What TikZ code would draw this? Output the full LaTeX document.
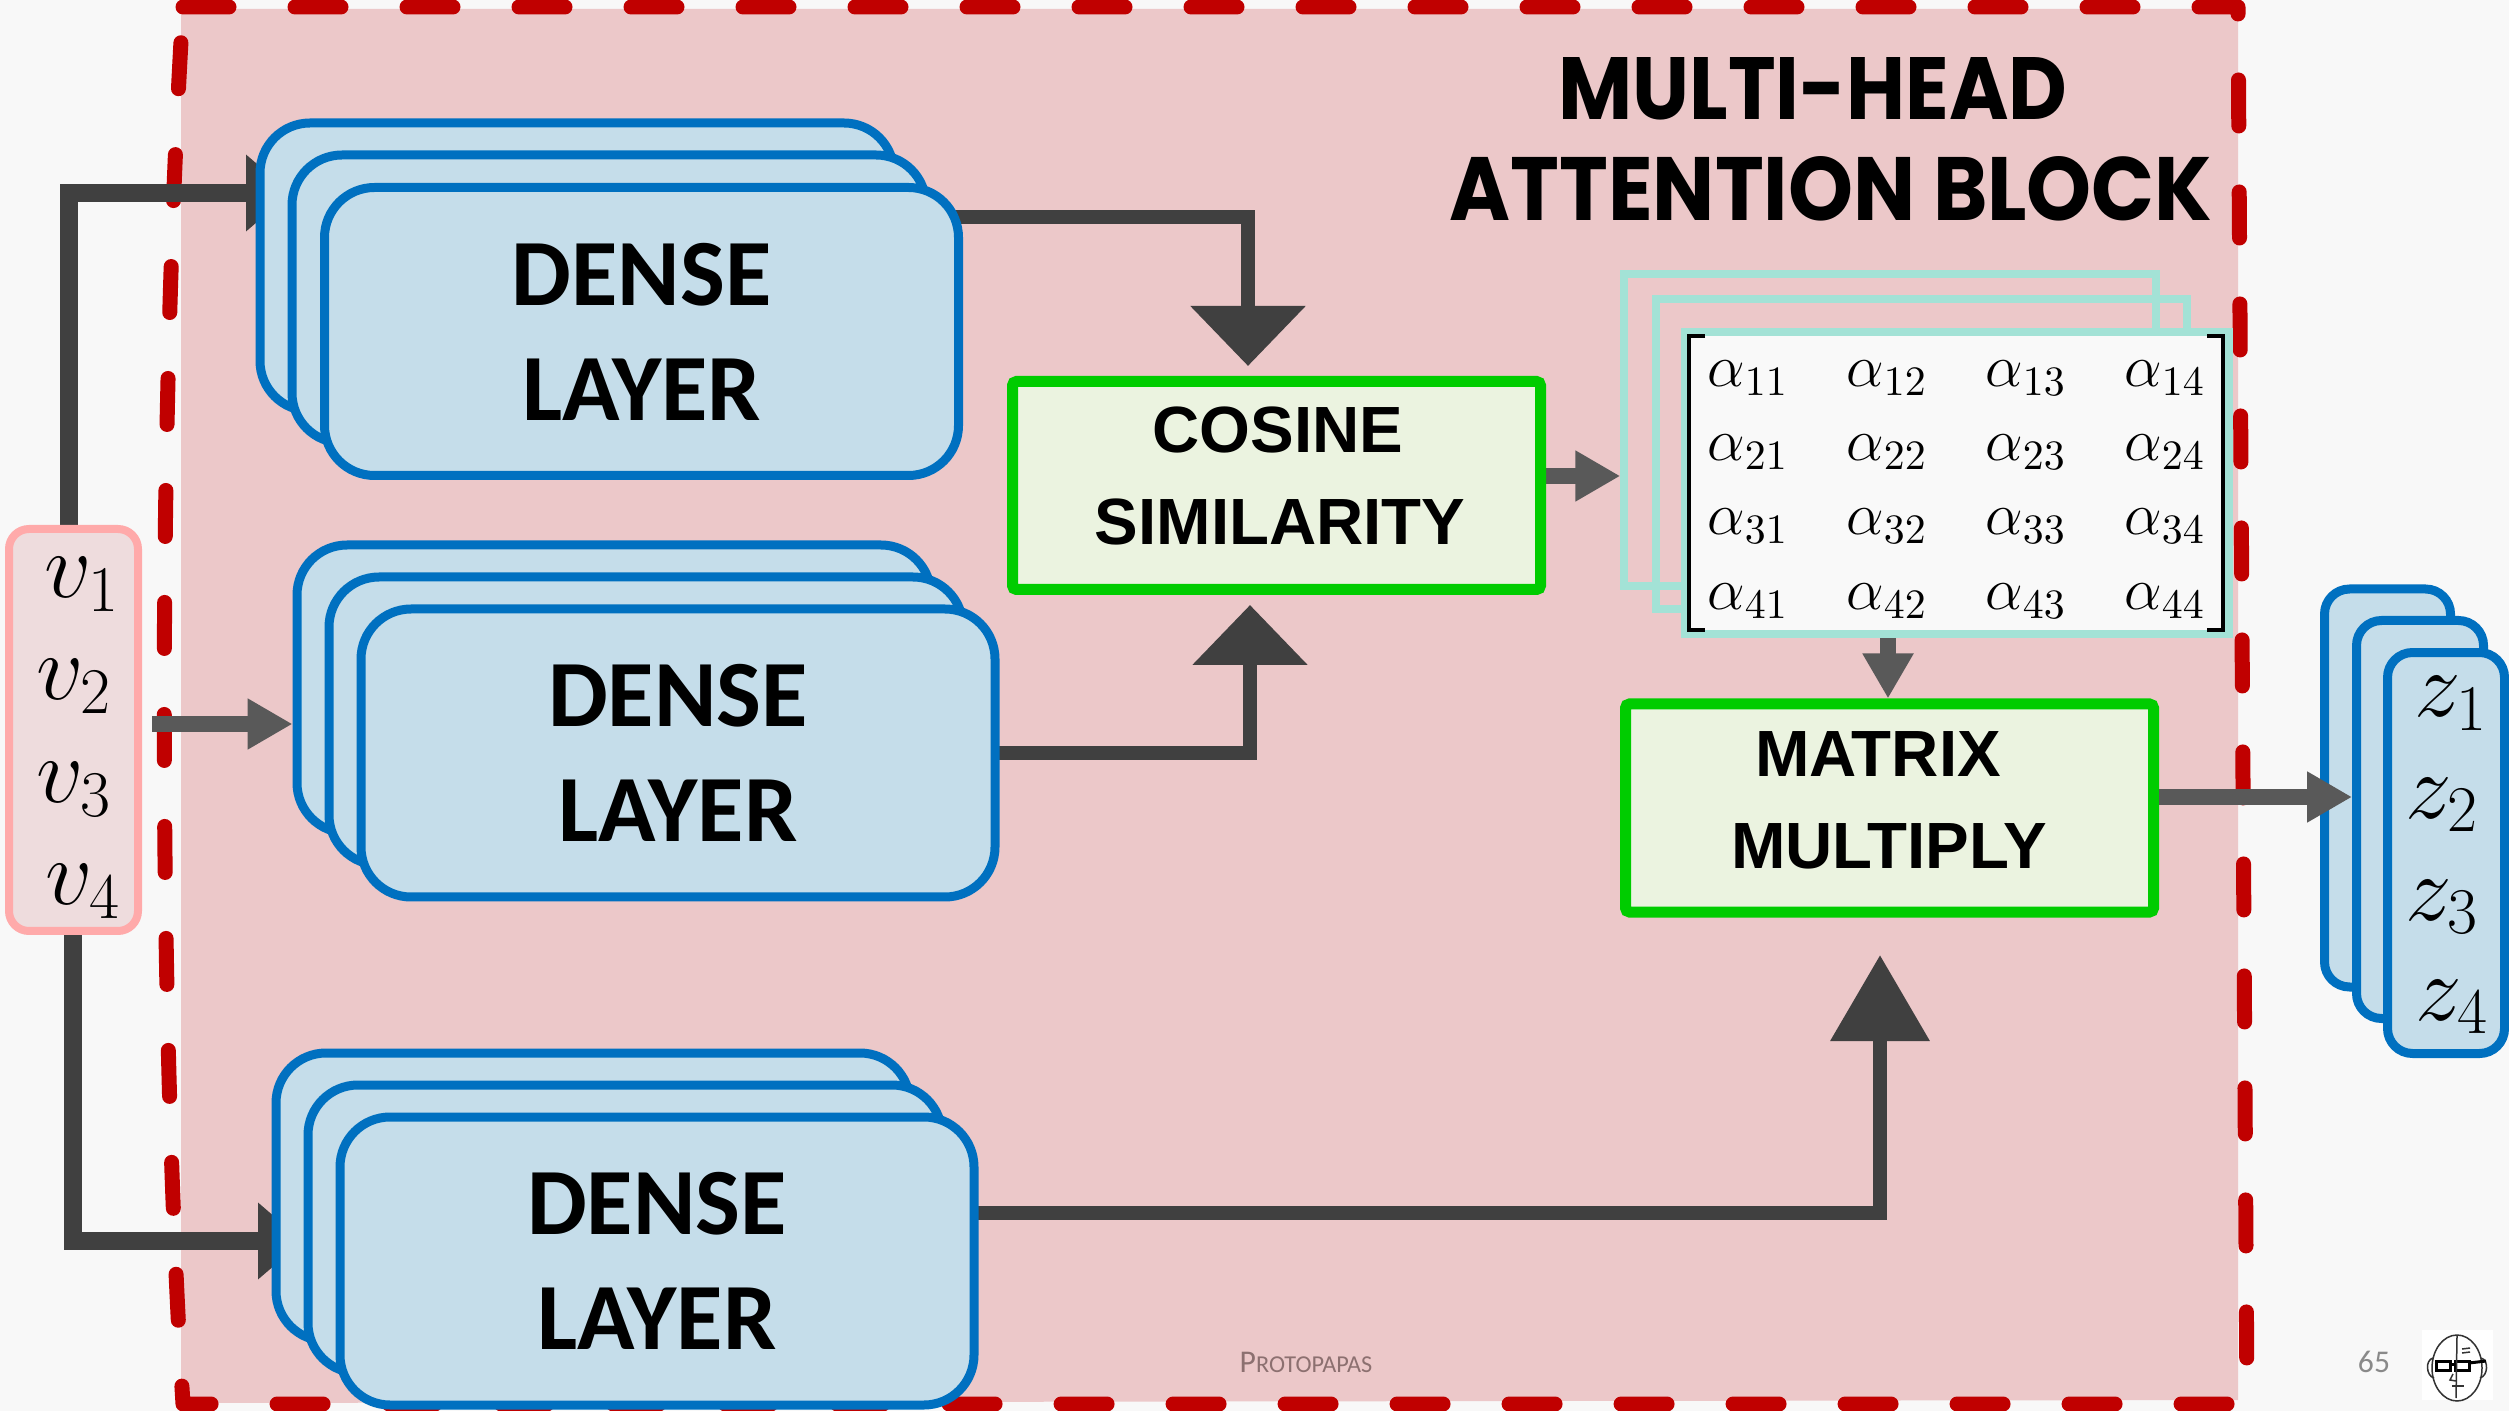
\RequirePackage{fix-cm}
\documentclass[tikz,border=0pt]{standalone}
\usepackage[no-math]{fontspec}
\usepackage{graphicx}
\usetikzlibrary{arrows.meta,calc}
\setmainfont{Carlito}
\newfontfamily\densefont{Carlito}
\newfontfamily\boxfont{Liberation Sans}
\newfontfamily\titlefont{Poppins}

\definecolor{bgc}{RGB}{248,248,248}
\definecolor{pinkfill}{RGB}{236,200,201}
\definecolor{bred}{RGB}{192,0,0}
\definecolor{dblue}{RGB}{0,112,192}
\definecolor{dfill}{RGB}{197,221,234}
\definecolor{vedge}{RGB}{255,170,170}
\definecolor{vfill}{RGB}{238,220,221}
\definecolor{gedge}{RGB}{0,204,0}
\definecolor{gfill}{RGB}{235,243,224}
\definecolor{tealedge}{RGB}{163,226,214}
\definecolor{matfill}{RGB}{249,249,249}
\definecolor{wiredark}{RGB}{64,64,64}
\definecolor{wiremid}{RGB}{89,89,89}
\definecolor{foot}{RGB}{140,112,112}
\definecolor{pagenum}{RGB}{137,137,137}

\pgfdeclarelayer{bg}
\pgfdeclarelayer{wires}
\pgfsetlayers{bg,wires,main}

\tikzset{
  densebox/.style={draw=dblue, fill=dfill, line width=0.9mm, rounded corners=5mm,
    minimum width=63.4mm, minimum height=28.8mm, inner sep=0pt, align=center,
    font=\densefont\bfseries\fontsize{27}{32.7}\selectfont},
  zbox/.style={draw=dblue, fill=dfill, line width=0.9mm, rounded corners=2.5mm,
    minimum height=39.8mm, inner sep=0pt},
  vecbox/.style={draw=vedge, fill=vfill, line width=0.8mm, rounded corners=2mm,
    minimum width=12.9mm, minimum height=40.2mm, inner sep=0pt},
  opbox/.style={draw=gedge, fill=gfill, line width=1.1mm, rounded corners=0.4mm,
    minimum width=52.8mm, minimum height=20.8mm, inner sep=0pt},
  optext/.style={anchor=base, inner sep=0pt, font=\boxfont\bfseries\fontsize{18.6}{22}\selectfont},
  frame/.style={draw=tealedge, line width=0.75mm, inner sep=0pt},
  entry/.style={anchor=base west, inner sep=0pt, font=\fontsize{17}{20}\selectfont},
  veclabel/.style={anchor=base, inner sep=0pt, font=\fontsize{26.5}{30}\selectfont},
  bracketline/.style={draw=black, line width=0.4mm},
  redborder/.style={draw=bred, line width=1.5mm, dash pattern=on 4.6mm off 6.6mm, line cap=round, line join=round},
  wire/.style={draw=wiredark, line width=1.4mm},
  vwire/.style={draw=wiredark, line width=1.8mm},
  swire/.style={draw=wiremid, line width=1.6mm},
  bighead/.style={-{Triangle[length=6mm,width=11.2mm]}},
  tallhead/.style={-{Triangle[length=8.6mm,width=9.6mm]}},
  smallhead/.style={-{Triangle[length=4.5mm,width=4.8mm]}},
  sidehead/.style={-{Triangle[length=4.5mm,width=7.4mm]}},
  facepen/.style={draw=black!80, line width=0.15mm},
}

\begin{document}
\begin{tikzpicture}[x=0.1mm,y=-0.1mm]
\useasboundingbox (0,0) rectangle (2509,1411);

% page and the pink block area with its dashed outline
\begin{pgfonlayer}{bg}
  \fill[bgc] (0,0) rectangle (2509,1411);
  \fill[pinkfill] (181,9) -- (2238,9) -- (2238,1400) -- (181,1403) -- cycle;
  \draw[redborder] (183,7) -- (2238,7) -- (2247,1404) -- (183,1404)
     .. controls (158,1000) and (158,420) .. (183,7) -- cycle;
\end{pgfonlayer}

% title
\node[anchor=base, inner sep=0pt] (title1) at (1813,120)
  {\resizebox{50.9mm}{6.2mm}{\titlefont\bfseries MULTI-HEAD}};
\node[anchor=base, inner sep=0pt] (title2) at (1831,221)
  {\resizebox{76.3mm}{6.4mm}{\titlefont\bfseries ATTENTION BLOCK}};

% input vector
\node[vecbox] (vbox) at (73.5,730) {};
\node[veclabel] (v1) at (82,598) {$v_1$};
\node[veclabel] (v2) at (74,700) {$v_2$};
\node[veclabel] (v3) at (74,803) {$v_3$};
\node[veclabel] (v4) at (83,905) {$v_4$};

% three stacks of dense layers
\node[densebox] (d1b) at (577,267) {};
\node[densebox] (d1m) at (609,299) {};
\node[densebox] (d1f) at (641.5,331.5) {DENSE\\LAYER};

\node[densebox] (d2b) at (614,689) {};
\node[densebox] (d2m) at (646,721) {};
\node[densebox] (d2f) at (678,753) {DENSE\\LAYER};

\node[densebox] (d3b) at (593,1197) {};
\node[densebox] (d3m) at (625,1229) {};
\node[densebox] (d3f) at (657,1261) {DENSE\\LAYER};

% operation boxes
\node[opbox] (cos) at (1276.5,485.5) {};
\node[optext] (cost1) at (1278,453) {COSINE};
\node[optext] (cost2) at (1280,545) {SIMILARITY};

\node[opbox] (mm) at (1889.5,808) {};
\node[optext] (mmt1) at (1878,776) {MATRIX};
\node[optext] (mmt2) at (1889,868) {MULTIPLY};

% stack of attention matrices
\node[frame, minimum width=53.2mm, minimum height=31.2mm] (mb) at (1890,430) {};
\node[frame, minimum width=53.1mm, minimum height=31.0mm] (mmid) at (1921.5,454) {};
\node[frame, fill=matfill, minimum width=54.4mm, minimum height=30.2mm] (mf) at (1957,483) {};
\draw[bracketline] (1705,336) -- (1689,336) -- (1689,630) -- (1705,630);
\draw[bracketline] (2207,336) -- (2223,336) -- (2223,630) -- (2207,630);
\foreach \r/\yy in {1/387,2/461,3/535,4/610}
  \foreach \c/\xx in {1/1707,2/1846,3/1985,4/2124}
    \node[entry] (a\r\c) at (\xx,\yy) {$\alpha_{\r\c}$};

% output vectors
\node[zbox, minimum width=12.6mm] (zb) at (2387.5,788) {};
\node[zbox, minimum width=12.7mm] (zm) at (2420,819.5) {};
\node[zbox, minimum width=11.7mm, minimum height=40.1mm] (zf) at (2446,853) {};
\node[veclabel] (z1) at (2451,717) {$z_1$};
\node[veclabel] (z2) at (2442,818) {$z_2$};
\node[veclabel] (z3) at (2442,920) {$z_3$};
\node[veclabel] (z4) at (2452,1020) {$z_4$};

% bend points and arrow ends
\coordinate (k1) at (1248,217);  \coordinate (k1t) at (1248,366);
\coordinate (k2) at (1250,753);  \coordinate (k2t) at (1250,605);
\coordinate (k3) at (1880,1213); \coordinate (k3t) at (1880,955);
\coordinate (k4) at (69,193);    \coordinate (k4t) at (291,193);
\coordinate (k5) at (73,1241);   \coordinate (k5t) at (303,1241);
\coordinate (k6) at (0,724);
\coordinate (k7) at (0,476);
\coordinate (k8) at (1888,0);
\coordinate (k9) at (0,797);

\begin{pgfonlayer}{wires}
  \draw[vwire, sidehead] (vbox.north -| k4) |- (k4t);
  \draw[vwire, sidehead] (vbox.south -| k5) |- (k5t);
  \draw[swire, smallhead] ([xshift=1mm]vbox.east |- k6) -- (d2b.west |- k6);
  \draw[wire, bighead, line join=miter] (d1f.center |- k1) -| (k1t);
  \draw[wire, bighead, line join=miter] (d2f.center |- k2) -| (k2t);
  \draw[wire, tallhead, line join=miter] (d3f.center |- k3) -| (k3t);
  \draw[swire, smallhead] (cos.east |- k7) -- (mb.west |- k7);
  \draw[swire, smallhead] (mf.south -| k8) -- (mm.north -| k8);
\end{pgfonlayer}
\draw[swire, smallhead] (mm.east |- k9) -- (zm.west |- k9);

% footer
\node[anchor=base, inner sep=0pt, text=foot] (author) at (1306,1372)
  {\densefont\fontsize{9}{10}\selectfont P\fontsize{6.9}{8}\selectfont ROTOPAPAS};
\node[anchor=base, inner sep=0pt, text=pagenum] (pnum) at (2374,1372)
  {\densefont\fontsize{9}{10}\selectfont 65};

% small portrait sketch
\fill[white] (2422,1330) rectangle (2493,1400);
\draw[facepen] (2457,1368) ellipse [x radius=25, y radius=33];
\draw[facepen] (2433,1358) .. controls (2425,1360) and (2426,1376) .. (2434,1378);
\draw[facepen] (2481,1358) .. controls (2489,1360) and (2488,1376) .. (2480,1378);
\draw[draw=black, line width=0.3mm] (2436,1361) rectangle (2450,1370);
\draw[draw=black, line width=0.3mm] (2455,1361) rectangle (2469,1370);
\draw[draw=black, line width=0.3mm] (2450,1364) -- (2455,1364);
\draw[draw=black, line width=0.3mm] (2469,1363) -- (2486,1361);
\draw[facepen] (2457,1336) -- (2456,1398);
\draw[facepen] (2462,1349) -- (2470,1348) (2462,1353) -- (2470,1352);
\draw[facepen] (2452,1386) -- (2464,1386);
\draw[facepen] (2453,1374) -- (2450,1380) -- (2456,1381);
\end{tikzpicture}
\end{document}
